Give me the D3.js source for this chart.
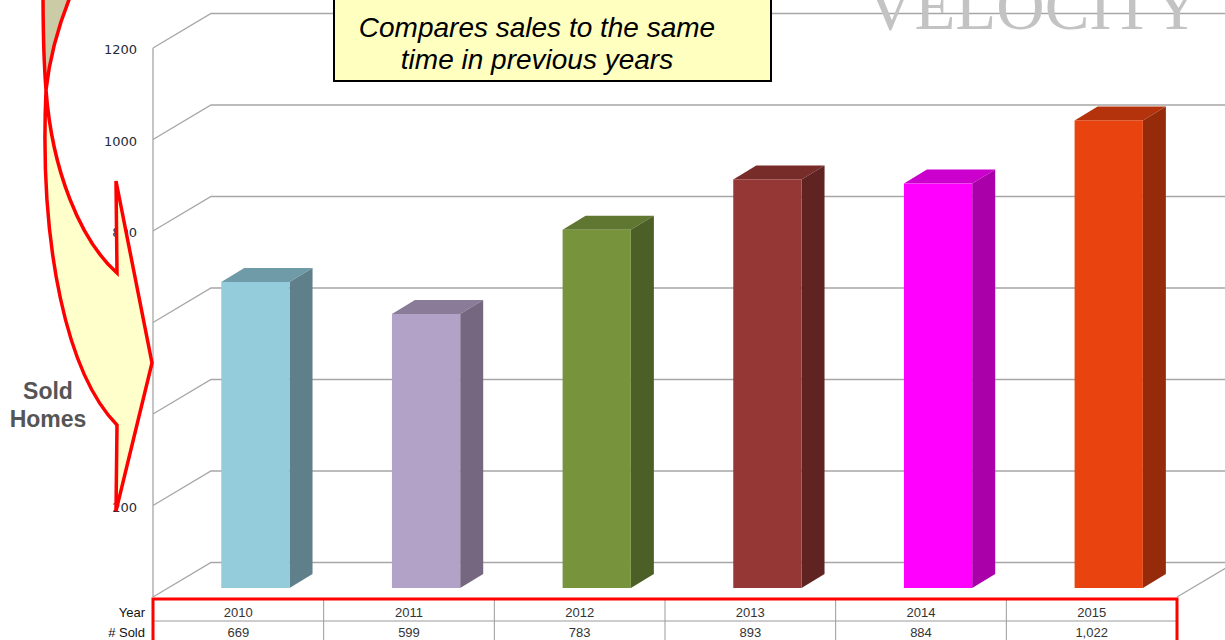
<!DOCTYPE html>
<html>
<head>
<meta charset="utf-8">
<script src="https://cdn.jsdelivr.net/npm/d3@7"></script>
<style>
  html, body { margin: 0; padding: 0; background: #fff; }
  #chart-container { width: 1225px; height: 640px; overflow: hidden; }
</style>
</head>
<body>
<div id="chart-container"></div>
<script>
// data
const years = ["2010", "2011", "2012", "2013", "2014", "2015"];
const soldHomes = [669, 599, 783, 893, 884, 1022];
const soldLabels = ["669", "599", "783", "893", "884", "1,022"];
const yTicks = [0, 200, 400, 600, 800, 1000, 1200];
const tickLabels = ["", "200", "400", "600", "800", "1000", "1200"];

// colours of each bar: front, side, top
const barFront = ["#94ccdc", "#b2a2c7", "#77933c", "#953735", "#ff00ff", "#e9440f"];
const barSide = ["#5f808b", "#75677f", "#4c5f27", "#5f2322", "#a900a9", "#952b0a"];
const barTop = ["#6f9aa7", "#8a7b98", "#5f7731", "#772c2a", "#cc00cc", "#b5330c"];

class VelocityChart {
  constructor(config) {
    this.config = config;
    this.svg = null;
    this.x = null;
    this.y = null;
    this.init();
  }

  init() {
    this.createSvg();
    this.setupScales();
    this.drawGrid();
    this.drawTickLabels();
    this.drawBars();
    this.drawTable();
    this.drawArrow();
    this.drawTexts();
  }

  createSvg() {
    this.svg = d3.select("#chart-container")
      .append("svg")
      .attr("width", this.config.width)
      .attr("height", this.config.height)
      .style("font-family", "Arial, 'Liberation Sans', sans-serif");
  }

  setupScales() {
    this.x = d3.scaleBand()
      .domain(years)
      .range([153, 1177]);

    // front plane of the 3D box
    this.y = d3.scaleLinear()
      .domain([0, 1200])
      .range([597, 48]);
  }

  drawGrid() {
    const d = this.config.depth;
    const g = this.svg.append("g");

    // grid lines on the side wall and back wall
    g.selectAll("path.grid")
      .data(yTicks)
      .enter().append("path")
      .attr("class", "grid")
      .attr("fill", "none")
      .attr("stroke", "#a6a6a6")
      .attr("stroke-width", 1.3)
      .attr("d", v => {
        const yy = this.y(v);
        return `M153,${yy}L${153 + d.dx},${yy - d.dy}L${1177 + d.dx},${yy - d.dy}`;
      });

    // front left edge and right floor edge
    g.append("line")
      .attr("x1", 153).attr("x2", 153)
      .attr("y1", this.y(1200)).attr("y2", this.y(0))
      .attr("stroke", "#a6a6a6")
      .attr("stroke-width", 1.3);

    g.append("line")
      .attr("x1", 1177).attr("y1", this.y(0))
      .attr("x2", 1177 + d.dx).attr("y2", this.y(0) - d.dy)
      .attr("stroke", "#a6a6a6")
      .attr("stroke-width", 1.3);
  }

  drawTickLabels() {
    this.svg.append("g")
      .selectAll("text")
      .data(yTicks)
      .enter().append("text")
      .attr("x", 137)
      .attr("y", v => this.y(v) + 6)
      .attr("text-anchor", "end")
      .style("font-family", "'DejaVu Sans', Verdana, sans-serif")
      .style("font-size", "13px")
      .attr("fill", "#232b3a")
      .text((v, i) => tickLabels[i]);
  }

  drawBars() {
    const b = this.config.bar;
    const bw = this.x.bandwidth();
    const g = this.svg.append("g");

    const bars = g.selectAll("g.bar")
      .data(soldHomes)
      .enter().append("g")
      .attr("class", "bar");

    const geom = (v, i) => {
      const x0 = this.x(years[i]) + bw * 0.4;
      const x1 = x0 + bw * 0.4;
      const yb = this.y(0) - b.shiftY;
      const yt = this.y(v) - b.shiftY;
      return { x0, x1, yb, yt };
    };

    // top face
    bars.append("path")
      .attr("fill", (v, i) => barTop[i])
      .attr("d", (v, i) => {
        const p = geom(v, i);
        return `M${p.x0},${p.yt}L${p.x0 + b.dx},${p.yt - b.dy}L${p.x1 + b.dx},${p.yt - b.dy}L${p.x1},${p.yt}Z`;
      });

    // side face
    bars.append("path")
      .attr("fill", (v, i) => barSide[i])
      .attr("d", (v, i) => {
        const p = geom(v, i);
        return `M${p.x1},${p.yt}L${p.x1 + b.dx},${p.yt - b.dy}L${p.x1 + b.dx},${p.yb - b.dy}L${p.x1},${p.yb}Z`;
      });

    // front face
    bars.append("rect")
      .attr("fill", (v, i) => barFront[i])
      .attr("x", (v, i) => geom(v, i).x0)
      .attr("y", (v, i) => geom(v, i).yt)
      .attr("width", bw * 0.4)
      .attr("height", (v, i) => geom(v, i).yb - geom(v, i).yt);
  }

  drawTable() {
    const g = this.svg.append("g");
    const top = 599, mid = 621;

    // cell borders
    g.selectAll("line.cell")
      .data(years.slice(1))
      .enter().append("line")
      .attr("class", "cell")
      .attr("x1", yr => this.x(yr)).attr("x2", yr => this.x(yr))
      .attr("y1", top).attr("y2", 645)
      .attr("stroke", "#9a9a9a");

    g.append("line")
      .attr("x1", 153).attr("x2", 1177)
      .attr("y1", mid).attr("y2", mid)
      .attr("stroke", "#9a9a9a");

    g.append("rect")
      .attr("x", 153).attr("y", top)
      .attr("width", 1177 - 153).attr("height", 60)
      .attr("fill", "none")
      .attr("stroke", "#ff0000")
      .attr("stroke-width", 3);

    const cx = yr => this.x(yr) + this.x.bandwidth() / 2;

    g.selectAll("text.year")
      .data(years)
      .enter().append("text")
      .attr("class", "year")
      .attr("x", cx)
      .attr("y", 617)
      .attr("text-anchor", "middle")
      .style("font-size", "13px")
      .attr("fill", "#333")
      .text(yr => yr);

    g.selectAll("text.sold")
      .data(soldLabels)
      .enter().append("text")
      .attr("class", "sold")
      .attr("x", (s, i) => cx(years[i]))
      .attr("y", 637)
      .attr("text-anchor", "middle")
      .style("font-size", "13px")
      .attr("fill", "#333")
      .text(s => s);

    g.append("text")
      .attr("x", 145).attr("y", 617)
      .attr("text-anchor", "end")
      .style("font-size", "13px")
      .attr("fill", "#111")
      .text("Year");

    g.append("text")
      .attr("x", 145).attr("y", 637)
      .attr("text-anchor", "end")
      .style("font-size", "13px")
      .attr("fill", "#111")
      .text("# Sold");
  }

  drawArrow() {
    const g = this.svg.append("g")
      .attr("stroke", "#ff0000")
      .attr("stroke-width", 3.5)
      .attr("stroke-linejoin", "miter");

    // back side of the curved arrow
    g.append("path")
      .attr("fill", "#cbcba6")
      .attr("d", "M43,-10 C43,30 44,65 46,90 C50,55 58,25 73,-10 Z");

    // front side with the head
    g.append("path")
      .attr("fill", "#ffffcc")
      .attr("d", "M46,90 C39,250 68,375 117,425 L116,511 L152,363 L116,181 L117,273 C80,240 52,170 46,90 Z");
  }

  drawTexts() {
    // title box
    this.svg.append("rect")
      .attr("x", 334).attr("y", -10)
      .attr("width", 437).attr("height", 91)
      .attr("fill", "#ffffc0")
      .attr("stroke", "#000")
      .attr("stroke-width", 2);

    const title = this.svg.append("text")
      .attr("text-anchor", "middle")
      .style("font-size", "28px")
      .style("font-style", "italic")
      .attr("fill", "#000");
    title.append("tspan").attr("x", 537).attr("y", 37).text("Compares sales to the same");
    title.append("tspan").attr("x", 537).attr("y", 69).text("time in previous years");

    // watermark
    this.svg.append("text")
      .attr("x", 1201).attr("y", 29)
      .attr("text-anchor", "end")
      .style("font-family", "'Liberation Serif', 'Times New Roman', serif")
      .style("font-size", "67px")
      .attr("fill", "#c3c3c3")
      .text("VELOCITY");

    // axis title
    const label = this.svg.append("text")
      .attr("text-anchor", "middle")
      .style("font-size", "23px")
      .style("font-weight", "bold")
      .attr("fill", "#555");
    label.append("tspan").attr("x", 48).attr("y", 399).text("Sold");
    label.append("tspan").attr("x", 48).attr("y", 427).text("Homes");
  }
}

new VelocityChart({
  width: 1225,
  height: 640,
  depth: { dx: 58, dy: 34.5 },
  bar: { dx: 23, dy: 14, shiftY: 9 }
});
</script>
</body>
</html>
